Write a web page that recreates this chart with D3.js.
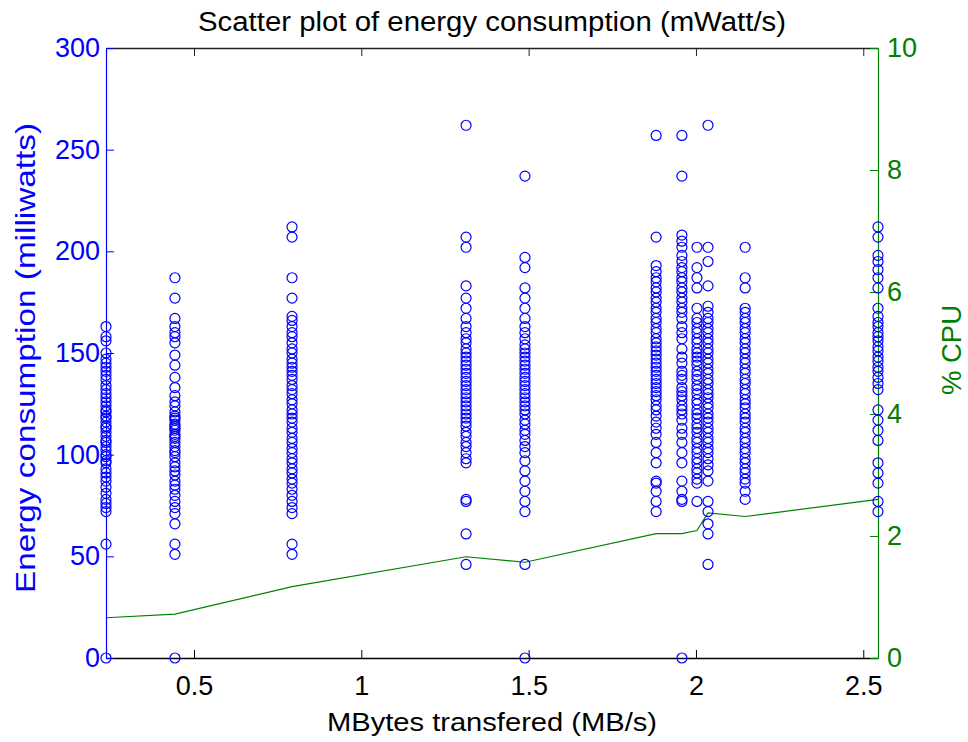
<!DOCTYPE html>
<html><head><meta charset="utf-8">
<script src="https://cdn.jsdelivr.net/npm/d3@7"></script>
<style>
body{margin:0;background:#fff}
text{font-family:"Liberation Sans",Arial,sans-serif}
</style>
</head><body>
<svg id="c" width="968" height="742"></svg>
<script>
// ---- data ----
const xPositions = [0.237, 0.443, 0.793, 1.313, 1.489, 1.881, 1.958, 2.003, 2.036, 2.147, 2.544];
const col1 = [0, 56, 72, 74, 76, 78, 81, 84, 87, 89, 91, 93, 96, 97, 99, 100, 102, 104, 106, 107, 109, 111, 113, 114, 116, 118, 119, 121, 122, 124, 126, 128, 130, 132, 134, 137, 139, 141, 143, 145, 147, 150, 156, 158, 163];
const col2 = [0, 51, 56, 66, 71, 74, 77, 80, 83, 85, 87, 90, 92, 94, 96, 99, 101, 102, 104, 106, 108, 109, 110, 112, 113, 114, 115, 117, 118, 119, 121, 124, 126, 129, 133, 138, 144, 149, 155, 158, 160, 163, 167, 177, 187];
const col3 = [51, 56, 71, 74, 77, 80, 83, 86, 88, 91, 93, 96, 98, 101, 103, 106, 108, 111, 113, 116, 118, 120, 122, 125, 127, 130, 132, 134, 137, 139, 141, 143, 145, 147, 150, 152, 155, 158, 160, 163, 166, 168, 177, 187, 207, 212];
const col4 = [46, 61, 77, 78, 96, 98, 101, 104, 106, 109, 111, 114, 116, 118, 120, 122, 124, 126, 128, 130, 132, 134, 136, 138, 140, 142, 144, 146, 148, 150, 152, 155, 157, 160, 163, 167, 172, 177, 183, 202, 207, 262];
const col5 = [0, 46, 72, 77, 82, 87, 92, 97, 101, 104, 107, 110, 112, 115, 117, 120, 122, 124, 126, 128, 130, 132, 134, 136, 138, 140, 142, 144, 146, 148, 150, 152, 154, 157, 160, 163, 167, 172, 177, 182, 192, 197, 237];
const col6 = [72, 77, 82, 86, 87, 96, 101, 106, 110, 113, 116, 119, 122, 124, 127, 129, 131, 133, 135, 137, 139, 141, 143, 145, 147, 149, 151, 153, 155, 157, 160, 162, 165, 167, 170, 172, 175, 177, 180, 182, 185, 187, 190, 193, 207, 257];
const col7 = [0, 77, 78, 82, 87, 96, 101, 106, 110, 113, 117, 120, 122, 124, 127, 129, 131, 133, 137, 139, 141, 145, 148, 152, 157, 160, 163, 167, 170, 172, 175, 177, 180, 182, 185, 187, 190, 192, 195, 198, 202, 205, 208, 237, 257];
const col8 = [77, 86, 88, 91, 93, 96, 98, 101, 103, 106, 108, 111, 113, 115, 118, 120, 122, 125, 127, 130, 132, 134, 137, 139, 141, 144, 146, 148, 150, 152, 155, 157, 160, 162, 165, 167, 172, 182, 187, 192, 202];
const col9 = [46, 61, 66, 72, 77, 87, 92, 95, 98, 101, 103, 106, 108, 111, 113, 116, 118, 120, 123, 125, 128, 130, 132, 135, 137, 140, 142, 145, 147, 150, 152, 155, 157, 160, 162, 165, 167, 170, 173, 183, 195, 202, 262];
const col10 = [78, 82, 86, 88, 91, 93, 96, 98, 101, 103, 106, 108, 111, 113, 116, 118, 120, 123, 125, 127, 130, 132, 135, 137, 140, 142, 145, 147, 150, 152, 155, 157, 160, 162, 165, 167, 170, 172, 182, 187, 202];
const col11 = [72, 77, 86, 91, 96, 107, 112, 117, 122, 132, 135, 138, 141, 143, 146, 148, 151, 153, 156, 158, 160, 163, 165, 168, 172, 182, 187, 191, 195, 198, 207, 212];
const energyColumns = [col1, col2, col3, col4, col5, col6, col7, col8, col9, col10, col11];
const cpuValues = [0.66, 0.72, 1.17, 1.66, 1.57, 2.04, 2.04, 2.09, 2.38, 2.32, 2.60];
const xTicks = [0.5, 1, 1.5, 2, 2.5];
const yLeftTicks = [0, 50, 100, 150, 200, 250, 300];
const yRightTicks = [0, 2, 4, 6, 8, 10];

// ---- chart ----
const BLUE = "#0000ff", GREEN = "#008000";
const L = 106, R = 878, T = 48, B = 658;
const FONT = '"Liberation Sans",Arial,sans-serif';
const svg = d3.select("#c");
const x = d3.scaleLinear().domain([d3.min(xPositions), d3.max(xPositions)]).range([L, R]);
const yL = d3.scaleLinear().domain([0, 300]).range([B, T]);
const yR = d3.scaleLinear().domain([0, 10]).range([B, T]);

const points = [];
energyColumns.forEach((col, i) => col.forEach(v => points.push({x: xPositions[i], y: v})));

// top axis (box line with ticks)
const gTop = svg.append("g").attr("transform", `translate(0,${T})`)
  .call(d3.axisTop(x).tickValues(xTicks).tickSizeInner(-8).tickSizeOuter(0).tickFormat(""));
gTop.select(".domain").attr("stroke", "#222").attr("stroke-width", 1.3);
gTop.selectAll(".tick line").attr("stroke", "#222");

// green CPU line
svg.append("path")
  .datum(xPositions.map((d, i) => [d, cpuValues[i]]))
  .attr("fill", "none").attr("stroke", GREEN).attr("stroke-width", 1.2)
  .attr("d", d3.line().x(d => x(d[0])).y(d => yR(d[1])));

// bottom axis
const gBot = svg.append("g").attr("transform", `translate(0,${B})`)
  .call(d3.axisBottom(x).tickValues(xTicks).tickSizeInner(-8).tickSizeOuter(0).tickPadding(18).tickFormat(d3.format("")));
gBot.select(".domain").attr("stroke", "#000").attr("stroke-width", 1.6);
gBot.selectAll(".tick line").attr("stroke", "#000");
gBot.selectAll("text").attr("font-size", 27).attr("fill", "#000").attr("font-family", FONT);

// left axis
const gL = svg.append("g").attr("transform", `translate(${L},0)`)
  .call(d3.axisLeft(yL).tickValues(yLeftTicks).tickSizeInner(-8).tickSizeOuter(0).tickPadding(6));
gL.select(".domain").attr("stroke", BLUE).attr("stroke-width", 1.2);
gL.selectAll(".tick line").attr("stroke", BLUE);
gL.selectAll("text").attr("font-size", 27).attr("fill", BLUE).attr("font-family", FONT);

// right axis
const gR = svg.append("g").attr("transform", `translate(${R},0)`)
  .call(d3.axisRight(yR).tickValues(yRightTicks).tickSizeInner(-8).tickSizeOuter(0).tickPadding(9));
gR.select(".domain").attr("stroke", GREEN).attr("stroke-width", 1.2);
gR.selectAll(".tick line").attr("stroke", GREEN);
gR.selectAll("text").attr("font-size", 27).attr("fill", GREEN).attr("font-family", FONT);

// scatter circles
svg.append("g").selectAll("circle").data(points).join("circle")
  .attr("cx", d => x(d.x)).attr("cy", d => yL(d.y)).attr("r", 5)
  .attr("fill", "none").attr("stroke", BLUE).attr("stroke-width", 1.2);

// title and labels
svg.append("text").attr("x", 492).attr("y", 31).attr("text-anchor", "middle")
  .attr("font-size", 27).attr("fill", "#000")
  .attr("textLength", 588).attr("lengthAdjust", "spacingAndGlyphs")
  .text("Scatter plot of energy consumption (mWatt/s)");
svg.append("text").attr("x", 492).attr("y", 731).attr("text-anchor", "middle")
  .attr("font-size", 26).attr("fill", "#000")
  .attr("textLength", 330).attr("lengthAdjust", "spacingAndGlyphs")
  .text("MBytes transfered (MB/s)");
svg.append("text").attr("transform", "translate(35,358) rotate(-90)").attr("text-anchor", "middle")
  .attr("font-size", 28).attr("fill", BLUE)
  .attr("textLength", 470).attr("lengthAdjust", "spacingAndGlyphs")
  .text("Energy consumption (milliwatts)");
svg.append("text").attr("transform", "translate(961,350) rotate(-90)").attr("text-anchor", "middle")
  .attr("font-size", 28).attr("fill", GREEN)
  .attr("textLength", 90).attr("lengthAdjust", "spacingAndGlyphs")
  .text("% CPU");
</script>
</body></html>
